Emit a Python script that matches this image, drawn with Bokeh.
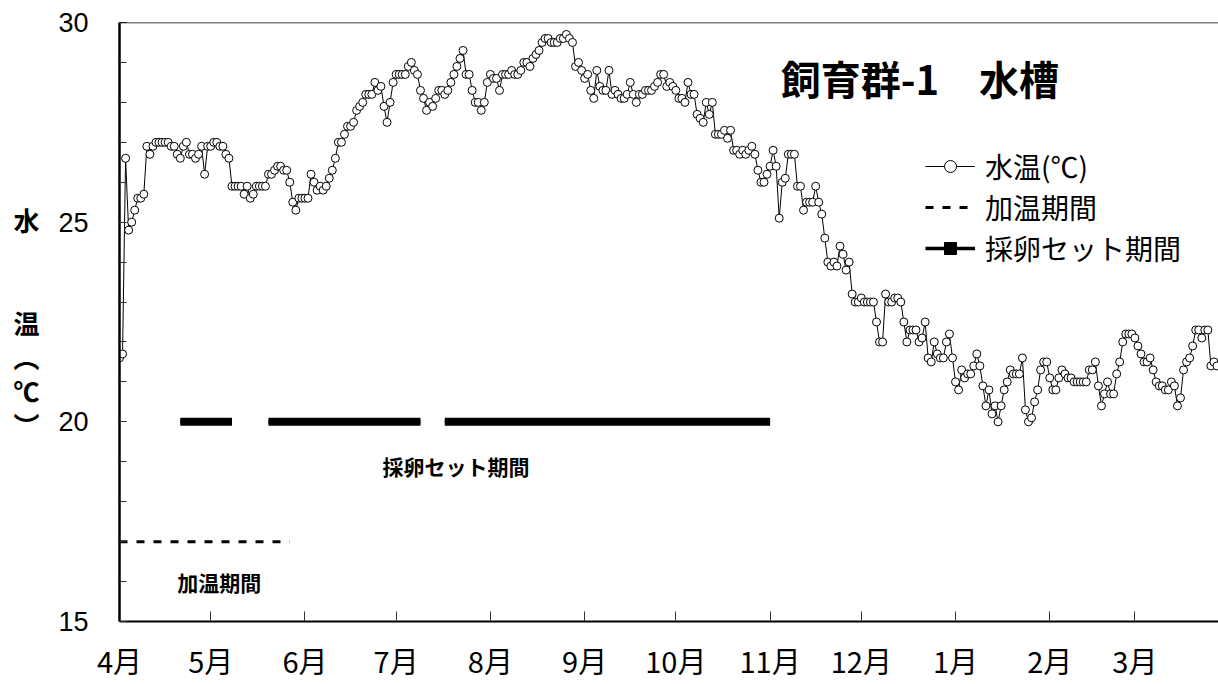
from bokeh.plotting import figure
from bokeh.models import Range1d, FixedTicker, Span, Label, Legend, LegendItem
from bokeh.embed import file_html
from bokeh.resources import INLINE

FONT = "Noto Sans CJK JP"

# Daily water temperature (°C), starting 1 April
water_temp = [
    21.6, 21.7, 26.6, 24.8, 25.0, 25.3, 25.6, 25.6, 25.7, 26.9,
    26.7, 26.9, 27.0, 27.0, 27.0, 27.0, 27.0, 26.9, 26.9, 26.7,
    26.6, 26.9, 27.0, 26.7, 26.7, 26.6, 26.7, 26.9, 26.2, 26.9,
    26.9, 27.0, 27.0, 26.9, 26.9, 26.7, 26.6, 25.9, 25.9, 25.9,
    25.9, 25.7, 25.9, 25.6, 25.7, 25.9, 25.9, 25.9, 25.9, 26.2,
    26.2, 26.3, 26.4, 26.4, 26.3, 26.3, 26.0, 25.5, 25.3, 25.6,
    25.6, 25.6, 25.6, 26.2, 26.0, 25.8, 25.9, 25.8, 25.9, 26.1,
    26.3, 26.6, 27.0, 27.0, 27.2, 27.4, 27.4, 27.5, 27.8, 27.9,
    28.0, 28.2, 28.2, 28.2, 28.5, 28.3, 28.4, 27.9, 27.5, 28.0,
    28.5, 28.7, 28.7, 28.7, 28.7, 28.9, 29.0, 28.8, 28.7, 28.3,
    28.1, 27.8, 28.0, 27.9, 28.1, 28.3, 28.3, 28.2, 28.3, 28.5,
    28.7, 28.9, 29.1, 29.3, 28.7, 28.7, 28.3, 28.0, 28.0, 27.8,
    28.0, 28.5, 28.7, 28.6, 28.6, 28.3, 28.7, 28.7, 28.7, 28.8,
    28.7, 28.7, 28.8, 29.0, 29.0, 28.9, 29.1, 29.2, 29.3, 29.5,
    29.6, 29.6, 29.5, 29.5, 29.5, 29.6, 29.6, 29.7, 29.6, 29.5,
    28.9, 29.0, 28.8, 28.6, 28.7, 28.3, 28.1, 28.8, 28.4, 28.3,
    28.3, 28.8, 28.2, 28.3, 28.2, 28.1, 28.1, 28.2, 28.5, 28.2,
    28.0, 28.2, 28.2, 28.3, 28.3, 28.3, 28.4, 28.5, 28.7, 28.7,
    28.4, 28.5, 28.4, 28.3, 28.1, 28.1, 28.0, 28.5, 28.2, 28.2,
    27.7, 27.6, 27.5, 28.0, 27.7, 28.0, 27.2, 27.2, 27.2, 27.3,
    27.1, 27.3, 26.8, 26.8, 26.7, 26.8, 26.7, 26.8, 26.9, 26.7,
    26.3, 26.0, 26.0, 26.2, 26.4, 26.8, 26.4, 25.1, 26.0, 26.1,
    26.7, 26.7, 26.7, 25.9, 25.9, 25.3, 25.5, 25.5, 25.5, 25.9,
    25.5, 25.2, 24.6, 24.0, 23.9, 24.0, 23.9, 24.4, 24.2, 23.8,
    24.0, 23.2, 23.0, 23.0, 23.1, 23.0, 23.0, 23.0, 23.0, 22.5,
    22.0, 22.0, 23.2, 23.0, 23.0, 23.1, 23.1, 23.0, 22.5, 22.0,
    22.3, 22.3, 22.3, 22.0, 22.1, 22.5, 21.6, 21.5, 22.0, 21.7,
    21.6, 21.6, 22.0, 22.2, 21.6, 21.0, 20.8, 21.3, 21.1, 21.2,
    21.2, 21.4, 21.7, 21.4, 20.9, 20.4, 20.8, 20.2, 20.4, 20.0,
    20.4, 20.8, 21.0, 21.3, 21.2, 21.2, 21.2, 21.6, 20.3, 20.0,
    20.1, 20.5, 20.8, 21.3, 21.5, 21.5, 21.1, 20.8, 20.8, 21.1,
    21.3, 21.2, 21.1, 21.1, 21.0, 21.0, 21.0, 21.0, 21.0, 21.3,
    21.3, 21.5, 20.9, 20.4, 20.7, 21.0, 20.7, 20.7, 21.2, 21.5,
    22.0, 22.2, 22.2, 22.2, 22.1, 21.9, 21.7, 21.5, 21.5, 21.6,
    21.3, 21.0, 20.9, 20.9, 20.8, 20.8, 21.0, 20.9, 20.4, 20.6,
    21.3, 21.5, 21.6, 21.9, 22.3, 22.3, 22.1, 22.3, 22.3, 21.4,
    21.5, 21.4,
]
days = list(range(len(water_temp)))  # days elapsed since 1 April

# First day of each month, counted from 1 April
month_start_days = [0, 30, 61, 91, 122, 153, 183, 214, 244, 275, 306, 334]
month_labels = ["4月", "5月", "6月", "7月", "8月", "9月", "10月",
                "11月", "12月", "1月", "2月", "3月"]

# Heating period (drawn at the 17 °C level)
heating_start = [0]
heating_end = [56]
heating_level = 17

# Spawning-set periods (drawn at the 20 °C level)
spawn_start = [20, 49, 107]
spawn_end = [37, 99, 214]
spawn_level = 20

p = figure(width=1218, height=684, output_backend="svg", toolbar_location=None,
           x_range=Range1d(0, 361.5), y_range=Range1d(15, 30),
           min_border_left=119, min_border_right=0,
           min_border_top=22, min_border_bottom=63)
p.outline_line_color = None
p.grid.visible = False
p.background_fill_color = "white"
p.border_fill_color = "white"

# x axis: month ticks pointing inward
xa = p.xaxis[0]
xa.ticker = FixedTicker(ticks=month_start_days)
xa.major_label_overrides = {d: m for d, m in zip(month_start_days, month_labels)}
xa.major_tick_in = 10
xa.major_tick_out = 0
xa.minor_tick_line_color = None
xa.major_tick_line_color = "#333333"
xa.axis_line_width = 2
xa.axis_line_color = "black"
xa.major_label_text_font = FONT
xa.major_label_text_font_size = "29px"
xa.major_label_text_color = "black"
xa.major_label_standoff = 17

# y axis: labels every 5 °C, inward ticks every 1 °C, stacked vertical title
ya = p.yaxis[0]
ya.ticker = FixedTicker(ticks=[15, 20, 25, 30], minor_ticks=list(range(15, 31)))
ya.major_tick_in = 7
ya.major_tick_out = 0
ya.minor_tick_in = 7
ya.minor_tick_out = 0
ya.major_tick_line_color = "#333333"
ya.minor_tick_line_color = "#333333"
ya.axis_line_width = 2.5
ya.axis_line_color = "black"
ya.major_label_text_font = "Liberation Sans"
ya.major_label_text_font_size = "27px"
ya.major_label_text_color = "black"
ya.major_label_standoff = 31
ya.axis_label = "水\n\n\n温\n︵\n℃\n︶"
ya.axis_label_orientation = "horizontal"
ya.axis_label_text_font = FONT
ya.axis_label_text_font_style = "bold"
ya.axis_label_text_font_size = "26px"
ya.axis_label_text_line_height = 0.92
ya.axis_label_text_align = "center"
ya.axis_label_text_color = "black"
ya.axis_label_standoff = 16

p.add_layout(Span(location=30, dimension="width", line_color="black", line_width=1.5))

# Water temperature series
temp_line = p.line(days, water_temp, line_color="black", line_width=1)
temp_dots = p.scatter(days, water_temp, marker="circle", size=8,
                      fill_color="white", line_color="black", line_width=1)

# Heating period
heat_r = p.segment(x0=heating_start, y0=[heating_level] * len(heating_start),
                   x1=heating_end, y1=[heating_level] * len(heating_end),
                   line_color="black", line_width=3, line_dash="8 9")

# Spawning-set periods: core line with (hidden) square end markers, overdrawn by a wide bar
spawn_y = [spawn_level] * len(spawn_start)
spawn_core = p.segment(x0=spawn_start, y0=spawn_y, x1=spawn_end, y1=spawn_y,
                       line_color="black", line_width=3.5)
spawn_marks = p.scatter(spawn_start + spawn_end, spawn_y + spawn_y,
                        marker="square", size=7, color="black", visible=False)
p.segment(x0=spawn_start, y0=spawn_y, x1=spawn_end, y1=spawn_y,
          line_color="black", line_width=8, line_cap="butt")

legend = Legend(items=[
    LegendItem(label="水温(℃)", renderers=[temp_line, temp_dots]),
    LegendItem(label="加温期間", renderers=[heat_r]),
    LegendItem(label="採卵セット期間", renderers=[spawn_core, spawn_marks]),
], location=(806, 353), glyph_width=50, glyph_height=30, spacing=1,
   label_standoff=10, padding=0, margin=0, border_line_color=None,
   background_fill_alpha=0, inactive_fill_alpha=0,
   label_text_font=FONT, label_text_font_size="28px", label_text_color="black")
p.add_layout(legend)

# Chart title inside the plot area
p.add_layout(Label(x=217.5, y=28.62, text="飼育群-1　水槽", text_font=FONT,
                   text_font_style="bold", text_font_size="40px",
                   text_align="left", text_baseline="middle", text_color="black"))

# Period captions
p.add_layout(Label(x=110.7, y=18.9, text="採卵セット期間", text_font=FONT,
                   text_font_style="bold", text_font_size="21px",
                   text_align="center", text_baseline="middle", text_color="black"))
p.add_layout(Label(x=32.8, y=16.0, text="加温期間", text_font=FONT,
                   text_font_style="bold", text_font_size="21px",
                   text_align="center", text_baseline="middle", text_color="black"))

open("out.html", "w").write(file_html(p, INLINE))
